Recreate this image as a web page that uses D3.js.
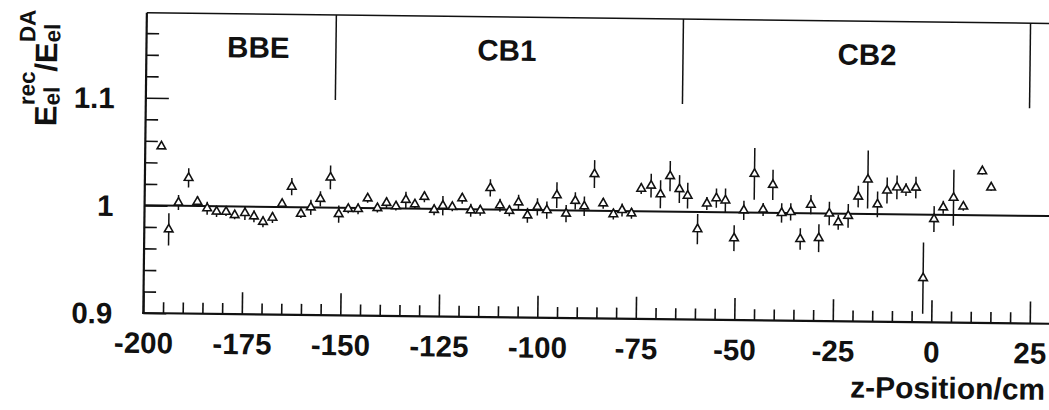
<!DOCTYPE html>
<html>
<head>
<meta charset="utf-8">
<script src="https://cdn.jsdelivr.net/npm/d3@7"></script>
<style>
  html, body { margin: 0; padding: 0; background: #fff; }
  svg { display: block; }
  text { font-family: "Liberation Sans", Arial, Helvetica, sans-serif; font-weight: bold; fill: #111; }
</style>
</head>
<body>
<svg id="chart" width="1049" height="410"></svg>
<script>
// z position of each bin centre (cm)
const zPos = [
  -195.9, -193.8, -191.4, -188.9, -186.6, -184.1, -181.7, -179.3, -177.1, -174.5,
  -172.2, -169.9, -167.5, -165.1, -162.7, -160.3, -157.8, -155.4, -152.9, -150.7,
  -148.3, -145.8, -143.4, -140.9, -138.6, -136.2, -133.7, -131.4, -129.0, -126.5,
  -124.3, -121.9, -119.4, -117.2, -114.8, -112.3, -109.8, -107.4, -105.1, -102.8,
  -100.3, -97.9, -95.4, -93.0, -90.7, -88.4, -85.9, -83.6, -81.0, -78.8,
  -76.4, -74.0, -71.5, -69.1, -66.7, -64.3, -62.2, -59.6, -57.3, -54.9,
  -52.6, -50.3, -47.9, -45.3, -43.0, -40.6, -38.3, -36.0, -33.5, -30.9,
  -28.8, -26.2, -23.9, -21.4, -18.9, -16.5, -14.0, -11.6, -9.1, -6.8,
  -4.3, -2.2, 0.4, 2.7, 5.3, 7.8, 12.5, 14.8
];

// mean E_rec / E_DA per bin
const ratio = [
  1.055, 0.978, 1.003, 1.026, 1.004, 0.998, 0.995, 0.995, 0.992, 0.994,
  0.991, 0.986, 0.990, 1.003, 1.019, 0.994, 1.000, 1.008, 1.028, 0.994,
  0.999, 0.999, 1.009, 1.000, 1.005, 1.002, 1.008, 1.004, 1.011, 0.999,
  1.003, 1.002, 1.010, 0.999, 0.999, 1.020, 1.004, 0.999, 1.007, 0.995,
  1.003, 1.000, 1.014, 0.997, 1.009, 1.004, 1.034, 1.007, 0.997, 1.001,
  0.998, 1.021, 1.024, 1.016, 1.033, 1.021, 1.015, 0.984, 1.008, 1.013,
  1.011, 0.976, 1.002, 1.036, 1.003, 1.026, 1.000, 1.001, 0.976, 1.008,
  0.977, 1.000, 0.992, 0.998, 1.016, 1.032, 1.009, 1.022, 1.025, 1.023,
  1.025, 0.941, 0.996, 1.007, 1.016, 1.008, 1.041, 1.026
];

// statistical error on the ratio
const ratioErr = [
  0.002, 0.015, 0.007, 0.009, 0.005, 0.006, 0.005, 0.004, 0.004, 0.0065,
  0.0055, 0.005, 0.005, 0.004, 0.008, 0.004, 0.007, 0.007, 0.011, 0.008,
  0.004, 0.005, 0.004, 0.004, 0.005, 0.004, 0.0075, 0.004, 0.005, 0.005,
  0.009, 0.004, 0.005, 0.006, 0.005, 0.008, 0.006, 0.005, 0.007, 0.007,
  0.008, 0.008, 0.012, 0.008, 0.008, 0.009, 0.013, 0.005, 0.005, 0.006,
  0.005, 0.005, 0.011, 0.013, 0.014, 0.013, 0.012, 0.014, 0.006, 0.009,
  0.011, 0.012, 0.009, 0.024, 0.006, 0.014, 0.009, 0.008, 0.010, 0.009,
  0.013, 0.011, 0.007, 0.011, 0.010, 0.027, 0.012, 0.012, 0.011, 0.006,
  0.010, 0.033, 0.012, 0.006, 0.026, 0.004, 0.003, 0.003
];

// calorimeter modules
const moduleNames = ["BBE", "CB1", "CB2"];
const moduleLabelZ = [-171.6, -108.5, -17.1];
const moduleEdgeZ = [-151.9, -63.8, 24.3];

// axis ticks
const xMajorTicks = [-200, -175, -150, -125, -100, -75, -50, -25, 0, 25];
const xMinorTicks = d3.range(-195, 30, 5).filter(v => v % 25 !== 0);
const yMajorTicks = [0.9, 1, 1.1];
const yMinorTicks = [0.92, 0.94, 0.96, 0.98, 1.02, 1.04, 1.06, 1.08, 1.12, 1.14, 1.16];

const x0 = 143.3, y0 = 313;
const x = d3.scaleLinear().domain([-200, 30]).range([x0, 1049.5]);
const y = d3.scaleLinear().domain([0.9, 1.179]).range([y0, 12.7]);

const svg = d3.select("#chart");
// the whole frame sits slightly skewed on the page
const g = svg.append("g").attr("transform", `rotate(0.68, ${x0}, ${y0})`);

// frame top edge
g.append("line")
  .attr("x1", x0).attr("x2", x.range()[1] + 5)
  .attr("y1", y.range()[1]).attr("y2", y.range()[1])
  .attr("stroke", "#111").attr("stroke-width", 1.6);

// module boundaries
g.selectAll("line.edge").data(moduleEdgeZ).join("line")
  .attr("class", "edge")
  .attr("x1", d => x(d)).attr("x2", d => x(d))
  .attr("y1", y.range()[1]).attr("y2", y(1.1))
  .attr("stroke", "#111").attr("stroke-width", 1.5);

// module names
g.selectAll("text.module").data(moduleNames).join("text")
  .attr("class", "module")
  .attr("x", (d, i) => x(moduleLabelZ[i]))
  .attr("y", y(1.1385))
  .attr("text-anchor", "middle")
  .attr("font-size", 29.5)
  .text(d => d);

// reference line at unity
g.append("line")
  .attr("x1", x0).attr("x2", x.range()[1] + 5)
  .attr("y1", y(1)).attr("y2", y(1))
  .attr("stroke", "#111").attr("stroke-width", 2);

// x axis
const xAxisMinor = g.append("g").attr("transform", `translate(0,${y0})`)
  .call(d3.axisBottom(x).tickValues(xMinorTicks).tickSize(-11).tickFormat(""));
const xAxis = g.append("g").attr("transform", `translate(0,${y0})`)
  .call(d3.axisBottom(x).tickValues(xMajorTicks).tickSize(-22).tickFormat(d => String(d)));
[xAxisMinor, xAxis].forEach(a => {
  a.select(".domain").remove();
  a.selectAll(".tick line").attr("stroke", "#111").attr("stroke-width", 1.6);
});
xAxis.selectAll(".tick text")
  .attr("y", 40).attr("dy", 0)
  .attr("font-size", 29.5)
  .attr("font-family", null)
  .attr("fill", "#111");
g.append("line")
  .attr("x1", x0 - 1).attr("x2", x.range()[1] + 5)
  .attr("y1", y0).attr("y2", y0)
  .attr("stroke", "#111").attr("stroke-width", 2.2);

// y axis
const yAxisMinor = g.append("g").attr("transform", `translate(${x0},0)`)
  .call(d3.axisLeft(y).tickValues(yMinorTicks).tickSize(-12.5).tickFormat(""));
const yAxis = g.append("g").attr("transform", `translate(${x0},0)`)
  .call(d3.axisLeft(y).tickValues(yMajorTicks).tickSize(-23).tickFormat(d => String(d)));
[yAxisMinor, yAxis].forEach(a => {
  a.select(".domain").remove();
  a.selectAll(".tick line").attr("stroke", "#111").attr("stroke-width", 1.6);
});
yAxis.selectAll(".tick text")
  .attr("x", -31).attr("dy", "0.35em")
  .attr("font-size", 29.5)
  .attr("font-family", null)
  .attr("fill", "#111");
g.append("line")
  .attr("x1", x0).attr("x2", x0)
  .attr("y1", y0 + 1).attr("y2", y.range()[1])
  .attr("stroke", "#111").attr("stroke-width", 2.2);

// x axis title
g.append("text")
  .attr("x", 1046).attr("y", y0 + 76)
  .attr("text-anchor", "end")
  .attr("font-size", 30)
  .text("z-Position/cm");

// y axis title  E_el^rec / E_el^DA, laid out piece by piece
const title = g.append("g");
let cursor = 0;
function put(txt, size, dy, advance) {
  const t = title.append("text").attr("x", cursor).attr("y", dy).attr("font-size", size).text(txt);
  const w = t.node().getComputedTextLength();
  if (advance) cursor += w;
  return w;
}
function stacked(sup, sub) {
  const wa = put(sup, 22.5, -22, false);
  const wb = put(sub, 22.5, 3, false);
  cursor += Math.max(wa, wb);
}
put("E", 31, 0, true);
stacked("rec", "el");
put("/", 31, 0, true);
put("E", 31, 0, true);
stacked("DA", "el");
title.attr("transform", `translate(54, ${11 + cursor}) rotate(-90)`);

// error bars
g.selectAll("line.err").data(zPos).join("line")
  .attr("class", "err")
  .attr("x1", d => x(d)).attr("x2", d => x(d))
  .attr("y1", (d, i) => y(ratio[i] - ratioErr[i]))
  .attr("y2", (d, i) => y(ratio[i] + ratioErr[i]))
  .attr("stroke", "#111").attr("stroke-width", 1.5);

// open triangle markers
const tri = d3.symbol().type(d3.symbolTriangle).size(32);
g.selectAll("path.pt").data(zPos).join("path")
  .attr("class", "pt")
  .attr("d", tri)
  .attr("transform", (d, i) => `translate(${x(d)},${y(ratio[i])})`)
  .attr("fill", "#fff")
  .attr("stroke", "#111")
  .attr("stroke-width", 1.6);
</script>
</body>
</html>
